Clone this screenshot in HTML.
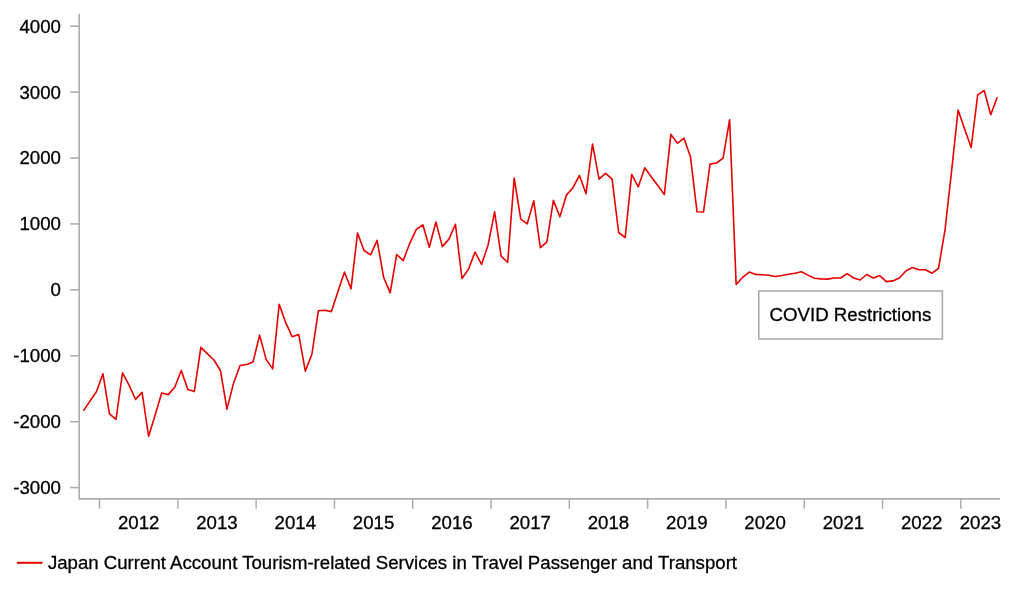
<!DOCTYPE html><html><head><meta charset="utf-8"><title>Chart</title><style>html,body{margin:0;padding:0;background:#fff}svg{display:block}text{font-family:"Liberation Sans",Arial,sans-serif;fill:#000;stroke:#000;stroke-width:0.3px}</style></head><body>
<svg width="1022" height="597" viewBox="0 0 1022 597">
<rect width="1022" height="597" fill="#fff"/>
<path d="M79.2 13.8V498.9H1000" fill="none" stroke="#adadad" stroke-width="1.6"/>
<line x1="70.2" x2="79.2" y1="26.20" y2="26.20" stroke="#adadad" stroke-width="1.6"/>
<text x="60.9" y="32.65" font-size="18.67" text-anchor="end">4000</text>
<line x1="70.2" x2="79.2" y1="92.11" y2="92.11" stroke="#adadad" stroke-width="1.6"/>
<text x="60.9" y="98.56" font-size="18.67" text-anchor="end">3000</text>
<line x1="70.2" x2="79.2" y1="158.03" y2="158.03" stroke="#adadad" stroke-width="1.6"/>
<text x="60.9" y="164.48" font-size="18.67" text-anchor="end">2000</text>
<line x1="70.2" x2="79.2" y1="223.94" y2="223.94" stroke="#adadad" stroke-width="1.6"/>
<text x="60.9" y="230.39" font-size="18.67" text-anchor="end">1000</text>
<line x1="70.2" x2="79.2" y1="289.86" y2="289.86" stroke="#adadad" stroke-width="1.6"/>
<text x="60.9" y="296.31" font-size="18.67" text-anchor="end">0</text>
<line x1="70.2" x2="79.2" y1="355.77" y2="355.77" stroke="#adadad" stroke-width="1.6"/>
<text x="60.9" y="362.22" font-size="18.67" text-anchor="end">-1000</text>
<line x1="70.2" x2="79.2" y1="421.69" y2="421.69" stroke="#adadad" stroke-width="1.6"/>
<text x="60.9" y="428.14" font-size="18.67" text-anchor="end">-2000</text>
<line x1="70.2" x2="79.2" y1="487.60" y2="487.60" stroke="#adadad" stroke-width="1.6"/>
<text x="60.9" y="494.05" font-size="18.67" text-anchor="end">-3000</text>
<line x1="99.55" x2="99.55" y1="498.9" y2="508.8" stroke="#adadad" stroke-width="1.5"/>
<text x="138.70" y="529.1" font-size="18.67" text-anchor="middle">2012</text>
<line x1="177.85" x2="177.85" y1="498.9" y2="508.8" stroke="#adadad" stroke-width="1.5"/>
<text x="217.00" y="529.1" font-size="18.67" text-anchor="middle">2013</text>
<line x1="256.15" x2="256.15" y1="498.9" y2="508.8" stroke="#adadad" stroke-width="1.5"/>
<text x="295.30" y="529.1" font-size="18.67" text-anchor="middle">2014</text>
<line x1="334.45" x2="334.45" y1="498.9" y2="508.8" stroke="#adadad" stroke-width="1.5"/>
<text x="373.60" y="529.1" font-size="18.67" text-anchor="middle">2015</text>
<line x1="412.75" x2="412.75" y1="498.9" y2="508.8" stroke="#adadad" stroke-width="1.5"/>
<text x="451.90" y="529.1" font-size="18.67" text-anchor="middle">2016</text>
<line x1="491.05" x2="491.05" y1="498.9" y2="508.8" stroke="#adadad" stroke-width="1.5"/>
<text x="530.20" y="529.1" font-size="18.67" text-anchor="middle">2017</text>
<line x1="569.35" x2="569.35" y1="498.9" y2="508.8" stroke="#adadad" stroke-width="1.5"/>
<text x="608.50" y="529.1" font-size="18.67" text-anchor="middle">2018</text>
<line x1="647.65" x2="647.65" y1="498.9" y2="508.8" stroke="#adadad" stroke-width="1.5"/>
<text x="686.80" y="529.1" font-size="18.67" text-anchor="middle">2019</text>
<line x1="725.95" x2="725.95" y1="498.9" y2="508.8" stroke="#adadad" stroke-width="1.5"/>
<text x="765.10" y="529.1" font-size="18.67" text-anchor="middle">2020</text>
<line x1="804.25" x2="804.25" y1="498.9" y2="508.8" stroke="#adadad" stroke-width="1.5"/>
<text x="843.40" y="529.1" font-size="18.67" text-anchor="middle">2021</text>
<line x1="882.55" x2="882.55" y1="498.9" y2="508.8" stroke="#adadad" stroke-width="1.5"/>
<text x="921.70" y="529.1" font-size="18.67" text-anchor="middle">2022</text>
<line x1="960.85" x2="960.85" y1="498.9" y2="508.8" stroke="#adadad" stroke-width="1.5"/>
<text x="980.42" y="529.1" font-size="18.67" text-anchor="middle">2023</text>
<polyline points="83.35,410.9 89.88,401.3 96.41,391.8 102.93,373.7 109.46,413.9 115.99,419.3 122.52,372.9 129.05,385.2 135.57,399.4 142.10,392.4 148.63,436.3 155.16,414.9 161.69,393.0 168.21,394.6 174.74,387.2 181.27,370.5 187.80,389.4 194.33,391.6 200.85,347.4 207.38,353.6 213.91,360.0 220.44,370.5 226.97,409.1 233.49,383.4 240.02,365.5 246.55,364.5 253.08,361.9 259.61,335.1 266.13,359.4 272.66,368.9 279.19,304.2 285.72,322.7 292.25,336.8 298.77,334.6 305.30,371.1 311.83,354.5 318.36,310.8 324.89,310.3 331.41,311.6 337.94,291.5 344.47,272.0 351.00,288.8 357.53,233.1 364.05,250.5 370.58,254.8 377.11,240.3 383.64,277.3 390.17,292.9 396.69,254.5 403.22,260.7 409.75,243.3 416.28,229.3 422.81,224.8 429.33,247.3 435.86,222.0 442.39,246.6 448.92,239.1 455.45,224.3 461.97,278.5 468.50,269.1 475.03,252.0 481.56,264.4 488.09,244.9 494.61,211.9 501.14,256.2 507.67,262.5 514.20,178.1 520.73,219.1 527.25,223.8 533.78,200.8 540.31,247.7 546.84,242.1 553.37,200.4 559.89,216.8 566.42,195.1 572.95,187.7 579.48,175.5 586.01,193.8 592.53,144.0 599.06,179.2 605.59,173.4 612.12,179.2 618.65,232.5 625.17,237.6 631.70,174.3 638.23,187.0 644.76,167.7 651.29,176.9 657.81,185.5 664.34,194.5 670.87,134.4 677.40,143.3 683.93,138.2 690.45,156.7 696.98,211.7 703.51,212.0 710.04,164.1 716.57,163.0 723.09,158.1 729.62,119.7 736.15,284.5 742.68,277.3 749.21,272.1 755.73,274.4 762.26,274.8 768.79,275.3 775.32,276.5 781.85,275.5 788.37,274.2 794.90,273.2 801.43,271.8 807.96,275.1 814.49,278.3 821.01,278.9 827.54,279.1 834.07,278.0 840.60,278.0 847.13,273.6 853.65,278.0 860.18,280.0 866.71,274.5 873.24,278.0 879.77,275.6 886.29,281.6 892.82,280.9 899.35,278.0 905.88,271.0 912.41,267.5 918.93,269.8 925.46,269.8 931.99,273.2 938.52,268.4 945.05,229.7 951.57,171.1 958.10,110.1 964.63,128.9 971.16,147.5 977.69,94.8 984.21,90.5 990.74,114.8 997.27,97.2" fill="none" stroke="#e60000" stroke-width="1.6" stroke-linejoin="round"/>
<rect x="758.8" y="291" width="183.6" height="48" fill="#fff" stroke="#adadad" stroke-width="1.6"/>
<text x="850.4" y="321.1" font-size="18.67" text-anchor="middle">COVID Restrictions</text>
<line x1="17" x2="42.5" y1="562.8" y2="562.8" stroke="#e60000" stroke-width="2"/>
<text x="47.9" y="568.8" font-size="18.64">Japan Current Account Tourism-related Services in Travel Passenger and Transport</text>
</svg></body></html>
